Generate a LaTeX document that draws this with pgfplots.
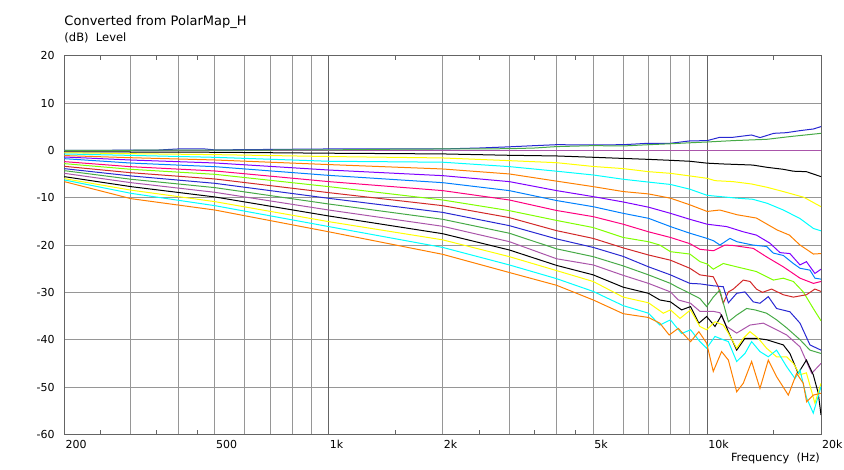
\documentclass[border=0pt]{standalone}
\usepackage{pgfplots}
\pgfplotsset{compat=1.18}
\usepackage{fontspec}
\setmainfont{DejaVu Sans}

\definecolor{cMauve}{RGB}{170,85,170}
\definecolor{cYellow}{RGB}{255,255,0}
\definecolor{cCyan}{RGB}{0,255,255}
\definecolor{cOrange}{RGB}{255,128,0}
\definecolor{cViolet}{RGB}{128,0,255}
\definecolor{cAzure}{RGB}{0,128,255}
\definecolor{cPink}{RGB}{255,0,128}
\definecolor{cLime}{RGB}{128,255,0}
\definecolor{cRed}{RGB}{210,40,40}
\definecolor{cBlue}{RGB}{40,40,210}
\definecolor{cGreen}{RGB}{70,170,70}
\definecolor{gridC}{RGB}{150,150,150}
\definecolor{darkgridC}{RGB}{100,100,100}
\definecolor{axisC}{RGB}{100,100,100}

\begin{document}
\begin{tikzpicture}
\begin{axis}[
  at={(0pt,0pt)}, anchor=south west,
  scale only axis, width=756.7pt, height=378.7pt,
  xmode=log, xmin=200, xmax=20000, ymin=-60, ymax=20,
  xtick={200,500,1000,2000,5000,10000,20000},
  xticklabels={200,500,1k,2k,5k,10k,20k},
  minor xtick={250,350,450,1500,2500,3500,4500,15000},
  extra x ticks={300,400,600,700,800,900,3000,4000,6000,7000,8000,9000},
  extra x tick labels={},
  extra x tick style={major tick length=0pt, xmajorgrids=true},
  ytick={-60,-50,...,20},
  yticklabels={-60,-50,-40,-30,-20,-10,0,10,20},
  grid=major,
  major grid style={line width=1pt, color=gridC},
  major tick length=0pt,
  minor tick length=4pt,
  tick align=inside,
  tick style={line width=1pt, color=axisC},
  axis line style={line width=1pt, color=axisC},
  xticklabel style={anchor=north west, inner sep=0pt, yshift=-5.5pt, xshift=1pt, font=\fontsize{11}{13}\selectfont},
  yticklabel style={anchor=east, inner sep=0pt, xshift=-9.5pt, font=\fontsize{11}{13}\selectfont},
  every axis plot/.append style={line width=1pt},
]
% darker decade lines
\draw[darkgridC, line width=1pt] (axis cs:1000,-60) -- (axis cs:1000,20);
\draw[darkgridC, line width=1pt] (axis cs:10000,-60) -- (axis cs:10000,20);

% 0 deg reference
\addplot[color=cMauve] coordinates {(200,0) (20000,0)};
% black 1
\addplot[color=black] coordinates {
(200,-0.3) (500,-0.4) (1000,-0.6) (2000,-0.75) (3000,-1.04) (4000,-1.18) (5000,-1.46)
(6000,-1.7) (7000,-1.9) (8000,-2.1) (9000,-2.3) (10000,-2.7) (11000,-2.87) (13200,-3.1)
(14400,-3.58) (15900,-4.0) (16900,-4.4) (18300,-4.5) (20000,-5.55)};
% yellow 1
\addplot[color=cYellow] coordinates {
(200,-0.5) (300,-0.7) (500,-0.9) (1000,-1.3) (2000,-1.6) (3000,-2.17) (4000,-2.6) (5000,-3.4)
(6000,-3.85) (7000,-4.5) (8000,-4.85) (9000,-5.4) (10000,-5.9) (10500,-6.4) (11700,-6.6)
(13100,-7.1) (14400,-7.8) (15900,-8.7) (18000,-9.9) (20000,-11.9)};
% cyan 1
\addplot[color=cCyan] coordinates {
(200,-0.76) (300,-1.06) (500,-1.47) (1000,-2.3) (2000,-2.5) (3000,-3.43) (4000,-4.4) (5000,-5.2)
(6000,-6.1) (7000,-6.7) (8000,-7.2) (9000,-8.2) (10000,-9.5) (12000,-10.1) (13200,-10.33)
(14400,-11.17) (15900,-12.6) (17600,-14.4) (19100,-16.5) (20000,-17)};
% orange 1
\addplot[color=cOrange] coordinates {
(200,-1.1) (300,-1.55) (500,-2.03) (1000,-3.0) (2000,-3.93) (3000,-4.98) (4000,-6.5) (5000,-7.66)
(6000,-8.7) (7000,-9.2) (8000,-10.1) (9000,-11.5) (10000,-12.9) (10800,-12.6) (12000,-13.6)
(13500,-14.3) (15300,-16.8) (16500,-17.9) (17600,-20) (19100,-21.9) (20000,-21.8)};
% violet
\addplot[color=cViolet] coordinates {
(200,-1.4) (300,-2.04) (500,-2.66) (1000,-4.15) (2000,-5.34) (3000,-6.6) (4000,-8.5) (5000,-9.77)
(6000,-10.9) (7000,-12.0) (8000,-13.3) (9000,-14.56) (10000,-15.6) (11260,-16.1) (12460,-17.2)
(13500,-17.9) (14650,-19.6) (15580,-21.6) (16550,-21.8) (17600,-24.2) (18300,-23.5) (19270,-26)
(20000,-25.1)};
% azure
\addplot[color=cAzure] coordinates {
(200,-1.75) (300,-2.68) (500,-3.44) (1000,-5.28) (2000,-6.82) (3000,-8.5) (4000,-10.6) (5000,-11.9)
(6000,-13.3) (7000,-14.35) (8000,-16.1) (9000,-17.5) (10000,-18.6) (10400,-19.1) (10810,-20)
(11490,-18.6) (12000,-19.3) (13200,-20) (14360,-20.3) (14960,-21.7) (15900,-22.2) (16900,-23.9)
(17600,-24.9) (18700,-25.3) (19270,-27) (20000,-27.2)};
% pink
\addplot[color=cPink] coordinates {
(200,-2.38) (300,-3.45) (500,-4.35) (1000,-6.6) (2000,-8.5) (3000,-10.48) (4000,-12.7) (5000,-14.0)
(6000,-15.6) (7000,-17.2) (8000,-18.4) (9000,-19.7) (9570,-20.9) (10400,-21.2) (11140,-20.0)
(11730,-20.1) (13240,-20.7) (14360,-22.5) (15900,-24.6) (17600,-27) (19100,-28.1) (20000,-27.7)};
% lime
\addplot[color=cLime] coordinates {
(200,-2.8) (300,-4.0) (500,-5.06) (1000,-7.66) (2000,-10.48) (3000,-12.73) (4000,-14.8) (5000,-16.3)
(6000,-18.4) (7000,-19.3) (7500,-20.0) (8000,-21.4) (9000,-21.9) (9570,-23.5) (10000,-24.0)
(10380,-25.1) (11030,-23.9) (11970,-24.6) (13500,-25.6) (14960,-27.4) (15900,-27.0) (16900,-27.7)
(17950,-29.9) (19080,-33.4) (20000,-36)};
% red
\addplot[color=cRed] coordinates {
(200,-3.37) (300,-4.72) (500,-6.04) (1000,-8.93) (2000,-11.68) (3000,-14.2) (4000,-16.96) (5000,-18.6)
(6000,-20.6) (7000,-22.1) (8000,-23.2) (9000,-24.9) (9570,-26.3) (10380,-26.7) (10700,-28.8)
(11030,-32.3) (11380,-29.9) (11730,-29.3) (12460,-27.4) (12980,-27.7) (13500,-29.3) (14000,-30)
(14800,-29.3) (15900,-30.5) (16900,-31) (18300,-30.5) (19270,-29.3) (20000,-29.8)};
% blue 2
\addplot[color=cBlue] coordinates {
(200,-3.86) (300,-5.4) (500,-6.96) (1000,-10.13) (2000,-13.1) (3000,-15.9) (4000,-18.7) (5000,-20.5)
(6000,-22.4) (7000,-24.6) (8000,-26.3) (9000,-28.1) (9570,-28.2) (10380,-28.6) (11030,-28.8)
(11380,-32.2) (11970,-30.2) (12590,-29.9) (13240,-32) (13790,-32.3) (14510,-30.9) (15260,-33.4)
(16550,-34.1) (17600,-36.5) (18700,-41.1) (20000,-42.2)};
% green 2
\addplot[color=cGreen] coordinates {
(200,-4.28) (300,-6.1) (500,-7.87) (1000,-11.33) (2000,-14.56) (3000,-17.5) (4000,-20.8) (5000,-22.45)
(6000,-24.4) (7000,-26.3) (8000,-28.1) (8300,-28.8) (9000,-30.2) (9570,-31.3) (9970,-33)
(10380,-31) (10800,-29.5) (11380,-36.2) (11970,-34.8) (12720,-33.4) (13380,-33.7) (14360,-34.4)
(15260,-35.8) (16230,-37.5) (17600,-40) (18700,-42.2) (20000,-42.9)};
% mauve 2
\addplot[color=cMauve] coordinates {
(200,-4.85) (300,-6.82) (500,-8.86) (1000,-12.6) (2000,-16.04) (3000,-19.28) (4000,-22.9) (5000,-24.2)
(6000,-26.4) (7000,-28.1) (8000,-29.9) (8390,-31.6) (9040,-32.3) (9570,-34.0) (10380,-34.0)
(10810,-34.3) (11260,-37.2) (11970,-38.6) (12980,-36.9) (14070,-36.5) (15260,-37.9) (16230,-39)
(17600,-41.5) (18900,-47.1) (20000,-45)};
% black 2
\addplot[color=black] coordinates {
(200,-5.55) (300,-7.66) (500,-9.84) (1000,-13.86) (2000,-17.6) (3000,-21.04) (4000,-24.3) (5000,-26.3)
(6000,-28.9) (7000,-30.2) (7500,-31.6) (8000,-32.0) (8560,-33.7) (9040,-33.0) (9510,-36.5)
(9970,-35.1) (10490,-37.2) (10920,-34.8) (11380,-38.3) (11970,-42.2) (12590,-39.7) (13500,-39.7)
(14360,-40) (15900,-41.1) (16550,-42.9) (17400,-47.1) (18300,-44.3) (19080,-47.4) (19670,-51.3)
(20000,-55.9)};
% yellow 2
\addplot[color=cYellow] coordinates {
(200,-5.97) (300,-8.4) (500,-10.83) (1000,-15.06) (2000,-18.9) (3000,-22.45) (4000,-25.4) (5000,-27.7)
(6000,-31.0) (7000,-32.2) (7660,-34.4) (8000,-33.7) (8480,-35.5) (9040,-33.7) (9570,-37.2)
(9970,-37.9) (10490,-36.2) (11030,-36.9) (11380,-38.6) (11970,-41.8) (12460,-39.7) (12980,-38.3)
(13650,-39.7) (14360,-41.8) (15260,-43.6) (16230,-43.6) (16900,-45) (17600,-47.4) (18300,-47)
(19270,-53.4) (20000,-49.2)};
% cyan 2
\addplot[color=cCyan] coordinates {
(200,-6.25) (300,-9.07) (500,-11.68) (1000,-16.1) (2000,-20.5) (3000,-24.2) (4000,-27.1) (5000,-29.8)
(6000,-32.8) (7000,-34.4) (7500,-36.9) (8000,-35.8) (8560,-38.7) (9040,-37.9) (9570,-40.4)
(9970,-41.8) (10490,-39.3) (11030,-40) (11380,-40.4) (11970,-44.6) (12590,-42.9) (13110,-40.4)
(13790,-42.5) (14510,-43.6) (15260,-42.2) (16230,-45.7) (17070,-48.2) (17600,-46.4) (18320,-52.3)
(19080,-55.5) (20000,-49.9)};
% orange 2
\addplot[color=cOrange] coordinates {
(200,-6.6) (300,-10.2) (500,-12.6) (1000,-17.2) (2000,-21.96) (3000,-25.8) (4000,-28.5) (5000,-31.6)
(6000,-34.5) (7000,-35.3) (7500,-36.5) (7940,-39.0) (8390,-37.6) (9040,-40.4) (9510,-38.3)
(9970,-40.7) (10380,-46.7) (10920,-42.5) (11380,-44.3) (11970,-51) (12460,-49.2) (13110,-44.6)
(13790,-50.3) (14510,-44.3) (15260,-47.8) (16390,-51.7) (17240,-47.1) (17950,-49.2) (18320,-53.1)
(19080,-51.7) (20000,-51.3)};
% curves above 0 dB
\addplot[color=cBlue] coordinates {
(200,0) (350,0.05) (400,0.3) (470,0.3) (500,0.1) (1000,0.3) (2000,0.3) (2500,0.5) (3000,0.75)
(3500,1.0) (4000,1.2) (5000,1.15) (6000,1.2) (7000,1.5) (8000,1.5) (9000,2.0) (10000,2.06)
(10800,2.76) (11700,2.76) (13100,3.25) (13800,2.7) (15000,3.6) (16200,3.74) (17600,4.17)
(19100,4.52) (20000,5.02)};
\addplot[color=cGreen] coordinates {
(200,0) (1000,0.1) (1500,0.25) (2000,0.3) (3000,0.35) (3500,0.5) (4000,0.8) (5000,1.0)
(6000,0.93) (7000,1.2) (8000,1.4) (9000,1.6) (10000,1.77) (11700,2.06) (14400,2.34)
(16500,2.9) (20000,3.6)};
\end{axis}
\node[anchor=base west, inner sep=0pt, font=\fontsize{13}{15}\selectfont] at (0pt,408.9pt) {Converted from PolarMap\_H};
\node[anchor=base west, inner sep=0pt, font=\fontsize{11.5}{13}\selectfont] at (0pt,392.9pt) {(dB)\ \ Level};
\node[anchor=base east, inner sep=0pt, font=\fontsize{11.3}{13}\selectfont] at (755.7pt,-27.3pt) {Frequency\ \ (Hz)};
\pgfresetboundingbox
\path (-64.3pt,-34.6pt) rectangle (779.7pt,434.4pt);
\end{tikzpicture}
\end{document}
